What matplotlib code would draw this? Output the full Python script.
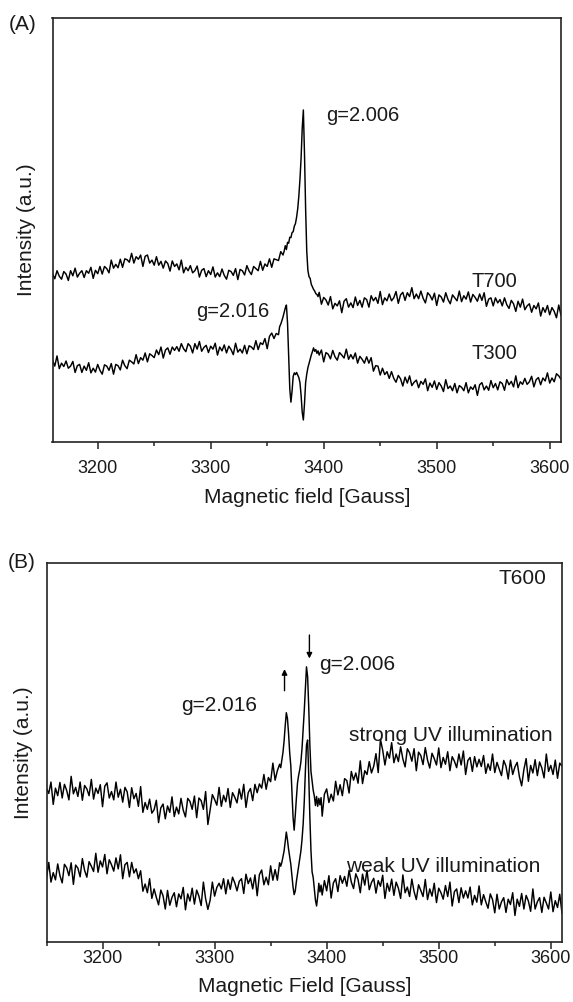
import numpy as np
import matplotlib
matplotlib.use("Agg")
import matplotlib.pyplot as plt
from matplotlib.ticker import MultipleLocator

plt.rcParams['font.family'] = ['Liberation Sans', 'DejaVu Sans']

# ---- panel A: T700 / T300 (field in Gauss, intensity in arbitrary units 0-100)
t700_left = [  # 3160..3364, step 2
    39.7, 38.5, 40.4, 39.1, 38.4, 40.2, 39.6, 38.1, 40.4, 39.2,
    41.0, 38.9, 39.8, 40.4, 38.8, 40.4, 39.8, 41.2, 38.6, 40.5,
    39.7, 41.4, 39.6, 41.4, 40.9, 39.9, 42.9, 41.0, 41.9, 41.1,
    43.1, 41.2, 43.2, 43.0, 42.4, 44.5, 42.2, 43.7, 43.1, 44.1,
    41.4, 43.8, 44.1, 42.2, 42.9, 41.7, 43.7, 41.7, 42.6, 41.0,
    42.7, 42.1, 40.3, 42.7, 41.4, 42.0, 40.6, 42.9, 39.9, 41.2,
    40.4, 41.6, 39.9, 40.4, 41.5, 38.9, 40.5, 40.9, 39.0, 40.4,
    39.5, 41.3, 38.9, 39.9, 39.0, 40.8, 39.3, 38.4, 40.5, 40.2,
    39.3, 40.9, 38.3, 40.7, 40.4, 39.4, 41.6, 40.3, 39.5, 41.4,
    40.9, 40.4, 42.6, 40.5, 42.0, 41.4, 43.2, 41.2, 43.2, 43.0,
    42.8, 44.9, 44.1]
t700_peak = [  # 3365..3395, step 1
    45.0, 46.3, 45.4, 47.1, 46.9, 48.3, 48.2, 49.4, 49.6, 50.9,
    51.5, 53.0, 55.0, 58.0, 62.0, 67.0, 74.0, 78.3, 68.0, 55.0,
    45.0, 40.5, 39.0, 38.6, 37.2, 36.6, 36.0, 35.6, 35.0, 34.8,
    34.3]
t700_right = [  # 3396..3610, step 2
    35.3, 32.5, 34.1, 33.5, 32.3, 34.3, 31.4, 32.7, 32.1, 33.3,
    30.5, 33.2, 33.8, 31.8, 32.8, 31.7, 34.2, 32.2, 33.4, 31.8,
    34.0, 33.6, 31.8, 34.5, 33.3, 34.1, 32.7, 35.5, 32.4, 34.0,
    33.3, 34.9, 33.3, 34.0, 35.5, 32.7, 34.7, 35.3, 33.4, 35.2,
    34.3, 36.4, 33.8, 34.9, 33.8, 35.6, 33.9, 32.8, 35.2, 34.6,
    33.5, 35.1, 32.2, 34.7, 34.2, 33.0, 35.2, 33.6, 32.6, 34.7,
    34.0, 33.3, 35.6, 33.1, 34.5, 33.7, 35.4, 33.0, 34.8, 34.1,
    33.2, 34.9, 33.4, 35.2, 32.0, 33.7, 34.0, 32.1, 34.0, 32.8,
    33.6, 32.1, 34.0, 32.4, 31.5, 33.4, 32.6, 30.8, 33.2, 31.8,
    33.7, 31.2, 32.1, 32.6, 30.6, 32.2, 31.4, 32.8, 29.7, 31.7,
    30.6, 32.2, 30.0, 31.7, 30.8, 29.3, 32.3, 29.9]

t300_left = [  # 3160..3360, step 2
    19.3, 17.9, 20.3, 17.3, 18.6, 17.8, 19.1, 17.4, 17.9, 19.0,
    16.4, 18.0, 18.3, 16.4, 17.9, 16.9, 18.7, 16.3, 17.4, 16.5,
    18.3, 16.9, 16.0, 18.2, 17.9, 16.9, 18.5, 16.0, 18.3, 18.0,
    17.0, 19.3, 18.0, 17.3, 19.3, 18.9, 18.4, 20.6, 18.5, 19.9,
    19.3, 21.0, 18.9, 20.8, 20.4, 19.9, 21.7, 20.6, 22.4, 19.8,
    21.7, 22.2, 20.7, 22.4, 21.6, 22.5, 21.4, 23.2, 22.0, 21.3,
    23.2, 22.6, 21.0, 23.2, 21.9, 23.7, 21.4, 22.3, 22.8, 21.1,
    22.6, 21.9, 23.3, 20.5, 22.4, 21.5, 22.9, 21.0, 22.6, 21.8,
    20.6, 23.3, 21.2, 21.9, 21.0, 22.8, 20.8, 22.7, 22.4, 21.8,
    23.9, 21.8, 23.4, 23.0, 24.4, 22.0, 24.9, 25.7, 24.4, 25.6,
    25.3]
t300_peak = [  # 3361..3395, step 1
    27.2, 27.8, 28.6, 29.5, 30.6, 31.6, 32.3, 28.0, 20.0, 12.5,
    9.4, 12.0, 15.5, 16.3, 15.9, 16.4, 15.8, 15.2, 14.0, 11.0,
    7.0, 5.2, 9.0, 14.0, 16.0, 17.5, 18.5, 19.5, 20.5, 21.3,
    22.2, 21.4, 21.8, 20.9, 21.5]
t300_right = [  # 3396..3610, step 2
    20.5, 21.7, 18.9, 21.1, 20.7, 19.6, 21.6, 20.1, 19.3, 21.1,
    20.5, 19.8, 21.9, 19.5, 20.6, 19.6, 21.0, 18.6, 20.2, 19.5,
    18.6, 20.1, 18.6, 19.9, 16.7, 18.0, 17.9, 15.8, 17.4, 15.9,
    16.6, 15.0, 16.6, 15.0, 14.1, 15.7, 14.9, 13.2, 15.3, 13.9,
    15.6, 13.3, 14.1, 14.6, 12.8, 14.3, 13.6, 14.9, 12.1, 13.9,
    12.9, 14.4, 12.4, 14.0, 13.2, 11.9, 14.7, 12.6, 13.2, 12.1,
    13.8, 11.6, 13.3, 12.9, 12.1, 14.0, 11.6, 13.0, 12.4, 13.5,
    11.0, 13.5, 14.0, 12.3, 13.2, 12.2, 14.5, 12.8, 13.8, 12.3,
    14.2, 13.8, 12.2, 14.7, 13.5, 14.3, 13.0, 15.6, 12.8, 14.2,
    13.6, 15.0, 13.6, 14.2, 15.5, 13.0, 14.7, 15.2, 13.5, 15.1,
    14.4, 16.3, 13.9, 15.1, 14.2, 16.1, 15.6, 14.8]

# ---- panel B: T600 under strong / weak UV illumination
strong_left = [  # 3150..3358, step 2
    40.5, 39.2, 42.2, 36.3, 40.6, 38.6, 42.1, 38.0, 41.6, 40.0,
    37.5, 43.7, 39.1, 40.8, 38.4, 42.2, 37.4, 41.3, 40.4, 38.6,
    42.9, 37.7, 40.6, 39.2, 41.5, 35.7, 41.1, 42.0, 38.0, 39.7,
    37.5, 42.2, 38.2, 40.3, 36.9, 40.8, 39.6, 35.5, 40.7, 37.8,
    39.2, 35.8, 41.0, 34.2, 36.8, 35.0, 37.7, 34.0, 34.9, 37.4,
    31.5, 35.4, 36.4, 32.5, 35.9, 34.2, 38.3, 33.1, 35.6, 33.8,
    37.9, 34.8, 33.0, 37.9, 37.1, 35.0, 38.5, 32.8, 38.0, 37.3,
    35.0, 39.7, 31.0, 34.8, 38.9, 37.6, 36.1, 40.8, 35.8, 38.7,
    37.0, 40.5, 35.5, 39.4, 38.2, 36.7, 40.4, 37.7, 41.6, 35.5,
    39.4, 40.5, 37.3, 41.6, 39.4, 41.7, 40.6, 44.2, 40.3, 43.4,
    42.3, 47.2, 42.7, 45.2, 46.9]
strong_peak = [  # 3359..3395, step 1
    46.0, 48.0, 50.0, 53.0, 57.0, 60.5, 59.0, 55.0, 50.0, 46.5,
    40.0, 33.0, 29.5, 33.5, 38.0, 42.0, 44.0, 45.5, 47.5, 51.0,
    56.0, 61.0, 67.0, 72.6, 70.0, 62.0, 52.0, 45.0, 42.5, 40.0,
    38.5, 36.0, 38.4, 35.8, 37.9, 36.2, 38.1]
strong_right = [  # 3396..3610, step 2
    33.2, 39.0, 40.4, 36.8, 39.0, 37.2, 42.4, 38.8, 41.5, 38.6,
    43.1, 42.6, 39.3, 45.0, 42.7, 44.6, 41.9, 47.8, 41.8, 45.2,
    44.2, 47.6, 44.6, 46.4, 49.7, 44.7, 53.5, 50.6, 46.7, 50.2,
    48.5, 52.6, 47.3, 49.6, 47.6, 51.5, 48.3, 46.2, 51.0, 49.9,
    47.7, 51.0, 45.2, 50.1, 49.2, 46.8, 51.3, 48.0, 45.9, 49.8,
    48.4, 46.7, 51.2, 46.0, 48.7, 46.9, 50.2, 45.2, 48.9, 47.7,
    46.0, 49.6, 46.7, 50.4, 44.2, 47.9, 48.7, 45.0, 48.9, 46.2,
    48.2, 46.3, 49.2, 44.5, 47.0, 45.3, 49.6, 44.7, 47.4, 45.6,
    43.9, 47.9, 46.4, 43.0, 48.0, 44.2, 46.2, 47.4, 43.6, 41.2,
    45.5, 48.4, 42.4, 46.6, 44.6, 48.1, 43.9, 47.5, 45.9, 43.3,
    49.6, 45.0, 46.6, 44.2, 48.0, 43.2, 47.2, 46.4]

weak_left = [  # 3150..3358, step 2
    16.9, 21.0, 15.8, 18.3, 16.4, 20.6, 17.5, 15.6, 20.5, 19.6,
    17.5, 20.9, 15.2, 20.3, 19.5, 17.2, 22.0, 18.9, 17.1, 21.2,
    20.0, 18.6, 23.4, 18.4, 21.4, 19.8, 23.1, 18.0, 21.7, 20.4,
    18.7, 22.2, 19.3, 23.0, 16.7, 20.4, 21.0, 17.2, 21.0, 18.2,
    19.3, 16.7, 18.8, 13.4, 15.3, 13.0, 16.7, 11.5, 14.0, 11.8,
    9.8, 13.7, 12.2, 8.7, 13.6, 9.7, 11.8, 13.0, 9.3, 12.7,
    11.4, 14.4, 8.5, 12.7, 10.8, 14.2, 10.0, 13.7, 12.1, 9.6,
    15.8, 11.4, 8.6, 11.0, 15.8, 12.1, 14.4, 15.5, 14.0, 16.7,
    12.7, 16.4, 13.9, 17.1, 15.6, 13.5, 16.0, 16.7, 12.8, 17.9,
    15.4, 16.9, 14.0, 17.7, 12.2, 17.8, 19.0, 15.1, 17.1, 15.1,
    20.1, 16.3, 19.1, 16.3, 20.9]
weak_peak = [  # 3359..3395, step 1
    20.0, 21.0, 22.5, 24.0, 26.5, 29.0, 27.0, 24.5, 22.5, 20.5,
    17.5, 14.5, 12.5, 13.5, 16.0, 18.0, 20.0, 22.0, 24.0, 27.0,
    31.0, 37.0, 45.0, 52.0, 53.3, 44.0, 33.0, 24.0, 18.5, 17.0,
    14.0, 11.0, 9.5, 12.0, 15.5, 13.2, 15.0]
weak_right = [  # 3396..3610, step 2
    12.4, 16.2, 13.5, 17.5, 11.6, 15.6, 16.7, 13.3, 17.5, 15.5,
    17.3, 14.7, 18.9, 15.8, 14.1, 18.0, 16.5, 13.0, 17.9, 15.0,
    18.9, 13.8, 15.7, 16.8, 12.9, 16.2, 14.7, 17.6, 11.5, 15.5,
    13.4, 16.6, 12.3, 15.8, 14.2, 11.5, 17.7, 13.0, 14.5, 12.0,
    16.6, 13.3, 11.2, 15.1, 13.6, 12.0, 16.5, 11.2, 14.0, 12.1,
    15.5, 10.4, 14.2, 13.0, 11.3, 14.9, 12.0, 15.8, 9.5, 13.3,
    14.0, 10.4, 14.3, 11.6, 13.5, 11.6, 14.5, 9.8, 12.3, 10.5,
    14.8, 9.8, 12.5, 10.6, 8.9, 12.7, 11.2, 7.7, 12.6, 8.7,
    10.6, 11.7, 7.8, 11.3, 9.9, 13.0, 7.0, 11.3, 9.4, 12.8,
    8.7, 12.3, 10.8, 8.1, 14.0, 8.7, 10.6, 11.7, 7.8, 11.8,
    10.3, 8.7, 13.2, 8.0, 10.9, 9.1, 12.6, 7.6]


def spectrum(left_start, left, peak_start, peak, right_start, right):
    """field axis: 2 G steps away from the lines, 1 G steps across them"""
    x = np.concatenate([left_start + 2 * np.arange(len(left)),
                        peak_start + np.arange(len(peak)),
                        right_start + 2 * np.arange(len(right))])
    y = np.array(left + peak + right)
    return x, y


TXT = '#1a1a1a'


def style_axis(ax, xlim, xlabel, tickpad, xlabelpad, ylabelpad):
    ax.set_xlim(*xlim)
    ax.set_ylim(0, 100)
    ax.set_yticks([])
    ax.xaxis.set_major_locator(MultipleLocator(100))
    ax.xaxis.set_minor_locator(MultipleLocator(50))
    ax.tick_params(axis='x', which='major', direction='out', length=5,
                   width=1.1, labelsize=13, pad=tickpad, colors='#222222',
                   labelcolor=TXT)
    ax.tick_params(axis='x', which='minor', direction='out', length=3,
                   width=1.1, colors='#222222')
    for sp in ax.spines.values():
        sp.set_linewidth(1.2)
        sp.set_color('#222222')
    ax.set_xlabel(xlabel, fontsize=15, color=TXT, labelpad=xlabelpad)
    ax.set_ylabel('Intensity (a.u.)', fontsize=15, color=TXT, labelpad=ylabelpad)


fig = plt.figure(figsize=(5.73, 10.02), dpi=100)
W, H = 573.0, 1002.0
axA = fig.add_axes([52.5 / W, 1 - 442 / H, (561 - 52.5) / W, (442 - 18) / H])
axB = fig.add_axes([46.5 / W, 1 - 942 / H, (562 - 46.5) / W, (942 - 563) / H])

LW = 1.05

# panel A
x, y = spectrum(3160, t700_left, 3365, t700_peak, 3396, t700_right)
axA.plot(x, y, color='black', lw=LW)
x, y = spectrum(3160, t300_left, 3361, t300_peak, 3396, t300_right)
axA.plot(x, y, color='black', lw=LW)
style_axis(axA, (3160, 3610), 'Magnetic field [Gauss]', 8, 8, 12)
axA.text(3402, 77, 'g=2.006', fontsize=14.5, color=TXT, va='center')
axA.text(3531, 37.8, 'T700', fontsize=14.5, color=TXT, va='center')
axA.text(3287, 30.7, 'g=2.016', fontsize=14.5, color=TXT, va='center')
axA.text(3531, 20.8, 'T300', fontsize=14.5, color=TXT, va='center')

# panel B
x, y = spectrum(3150, strong_left, 3359, strong_peak, 3396, strong_right)
axB.plot(x, y, color='black', lw=LW)
x, y = spectrum(3150, weak_left, 3359, weak_peak, 3396, weak_right)
axB.plot(x, y, color='black', lw=LW)
style_axis(axB, (3150, 3610), 'Magnetic Field [Gauss]', 1, 7, 10)
axB.text(3553, 95.8, 'T600', fontsize=15, color=TXT, va='center')
axB.text(3393, 73.1, 'g=2.006', fontsize=15, color=TXT, va='center')
axB.text(3270, 62.5, 'g=2.016', fontsize=15, color=TXT, va='center')
axB.text(3420, 54.6, 'strong UV illumination', fontsize=15, color=TXT, va='center')
axB.text(3417, 19.9, 'weak UV illumination', fontsize=15, color=TXT, va='center')
arrow = dict(arrowstyle='-|>', color='black', lw=1.0, mutation_scale=8,
             shrinkA=0, shrinkB=0)
axB.annotate('', xy=(3362.4, 72.0), xytext=(3362.4, 66.3), arrowprops=arrow)
axB.annotate('', xy=(3384.6, 74.8), xytext=(3384.6, 81.0), arrowprops=arrow)

fig.text(9 / W, 1 - 24 / H, '(A)', fontsize=15, color=TXT, va='center')
fig.text(8 / W, 1 - 563 / H, '(B)', fontsize=15, color=TXT, va='center')

fig.savefig('out.png', dpi=100)
